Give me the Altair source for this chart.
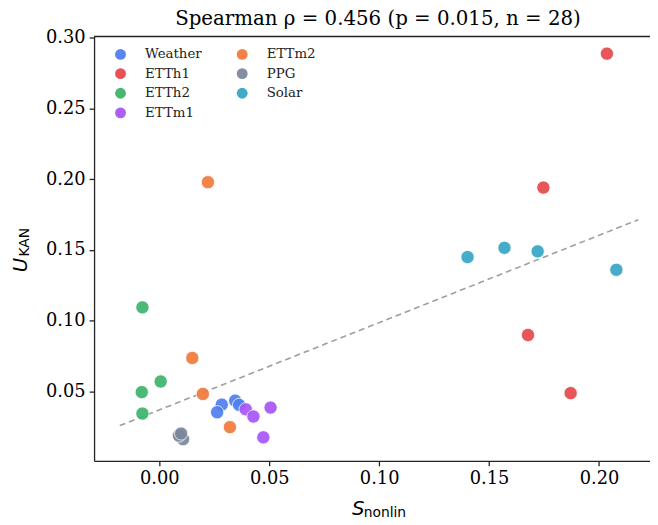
import altair as alt
import pandas as pd

# ---- data ----
datasets = ["Weather", "ETTh1", "ETTh2", "ETTm1", "ETTm2", "PPG", "Solar"]
weather_x = [0.0284, 0.0263, 0.0345, 0.0363]
weather_y = [0.0409, 0.0355, 0.0437, 0.0407]
etth1_x = [0.2036, 0.1747, 0.1677, 0.1871]
etth1_y = [0.2885, 0.1940, 0.0900, 0.0490]
etth2_x = [-0.0077, 0.0006, -0.0080, -0.0077]
etth2_y = [0.1095, 0.0572, 0.0497, 0.0346]
ettm1_x = [0.0393, 0.0428, 0.0506, 0.0473]
ettm1_y = [0.0376, 0.0325, 0.0388, 0.0178]
ettm2_x = [0.0221, 0.0150, 0.0198, 0.0321]
ettm2_y = [0.1978, 0.0738, 0.0484, 0.0250]
ppg_x = [0.0093, 0.0108, 0.0089, 0.0099]
ppg_y = [0.0195, 0.0165, 0.0190, 0.0205]
solar_x = [0.1402, 0.1570, 0.1721, 0.2079]
solar_y = [0.1450, 0.1515, 0.1490, 0.1360]

colors = ["#4f80f0", "#e5484d", "#3db46d", "#a855f7", "#f07a3a", "#7d879c", "#36a5c5"]
title_text = "Spearman ρ = 0.456 (p = 0.015, n = 28)"
x_ticks = [0.00, 0.05, 0.10, 0.15, 0.20]
y_ticks = [0.05, 0.10, 0.15, 0.20, 0.25, 0.30]

xs = [weather_x, etth1_x, etth2_x, ettm1_x, ettm2_x, ppg_x, solar_x]
ys = [weather_y, etth1_y, etth2_y, ettm1_y, ettm2_y, ppg_y, solar_y]
rows = []
for name, xx, yy in zip(datasets, xs, ys):
    for a, b in zip(xx, yy):
        rows.append({"dataset": name, "S": a, "U": b})
df = pd.DataFrame(rows)

W, H = 562, 429
xscale = alt.Scale(domain=[-0.0297, 0.2232], nice=False, zero=False)
yscale = alt.Scale(domain=[0.0012, 0.3006], nice=False, zero=False)

xaxis = alt.Axis(values=x_ticks, format=".2f", title=None, grid=False)
yaxis = alt.Axis(values=y_ticks, format=".2f", title=None, grid=False)

allx = [v for l in xs for v in l]
ext = [min(allx) - 0.01, max(allx) + 0.01]

line = alt.Chart(df).transform_regression("S", "U", extent=ext).mark_line(
    color="#9e9e9e", strokeDash=[6, 4], strokeWidth=1.6
).encode(x=alt.X("S:Q", scale=xscale, axis=xaxis), y=alt.Y("U:Q", scale=yscale, axis=yaxis))

points = alt.Chart(df).mark_circle(size=180, opacity=0.92, stroke="white", strokeWidth=0.8).encode(
    x=alt.X("S:Q", scale=xscale, axis=xaxis),
    y=alt.Y("U:Q", scale=yscale, axis=yaxis),
    color=alt.Color(
        "dataset:N",
        scale=alt.Scale(domain=datasets, range=colors),
        legend=alt.Legend(
            title=None, orient="none", legendX=20, legendY=11, columns=2,
            symbolType="circle", symbolSize=120, symbolOpacity=0.95, symbolStrokeWidth=0,
            labelFont="DejaVu Serif", labelFontSize=13.5, labelColor="#222222",
            labelOffset=18, columnPadding=34, rowPadding=4.8, padding=0,
        ),
    ),
)

frame_top = alt.Chart(pd.DataFrame({"a": [0]})).mark_rule(color="#222222", strokeWidth=1.3).encode(
    x=alt.value(0), x2=alt.value(W), y=alt.value(0)
)

u_main = alt.Chart(pd.DataFrame({"t": ["U"]})).mark_text(
    font="DejaVu Sans", fontStyle="italic", fontSize=20, angle=270, color="black"
).encode(x=alt.value(-74), y=alt.value(231), text="t:N")
u_sub = alt.Chart(pd.DataFrame({"t": ["KAN"]})).mark_text(
    font="DejaVu Sans", fontSize=14, angle=270, color="black"
).encode(x=alt.value(-70), y=alt.value(208), text="t:N")
s_main = alt.Chart(pd.DataFrame({"t": ["S"]})).mark_text(
    font="DejaVu Sans", fontStyle="italic", fontSize=20, color="black"
).encode(x=alt.value(267), y=alt.value(478), text="t:N")
s_sub = alt.Chart(pd.DataFrame({"t": ["nonlin"]})).mark_text(
    font="DejaVu Sans", fontSize=14, color="black"
).encode(x=alt.value(294), y=alt.value(482), text="t:N")

chart = alt.layer(line, points, frame_top, u_main, u_sub, s_main, s_sub).properties(
    width=W, height=H,
    title=alt.TitleParams(title_text, font="DejaVu Serif", fontSize=20, fontWeight="normal",
                          color="black", anchor="middle", offset=-1, dx=6),
    autosize=alt.AutoSizeParams(type="none"),
    padding={"left": 87, "top": 26, "right": 0, "bottom": 60},
).configure_view(stroke=None).configure_axis(
    domainColor="#222222", domainWidth=1.3, tickColor="#222222", tickWidth=1.3, tickSize=5,
    labelFont="DejaVu Serif", labelFontSize=18, labelColor="black", labelPadding=4,
)

chart.save("out.html", embed_options={"renderer": "svg", "actions": False})
